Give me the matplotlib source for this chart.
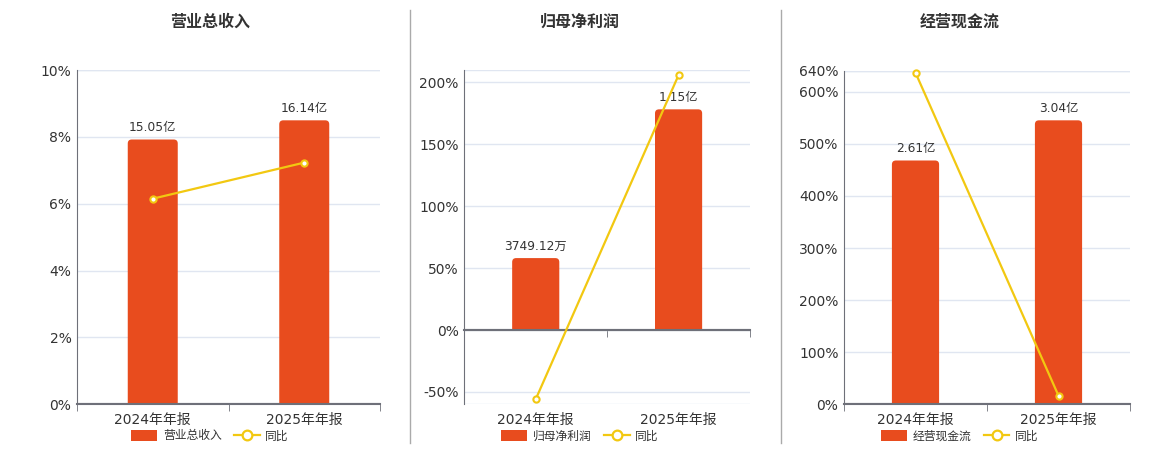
import numpy as np
import matplotlib
matplotlib.use("Agg")
import matplotlib.pyplot as plt
from matplotlib.patches import FancyBboxPatch, Patch, Rectangle
from matplotlib.lines import Line2D
from matplotlib.transforms import blended_transform_factory

plt.rcParams['font.family'] = ['DejaVu Sans', 'Noto Sans CJK SC']

# ---- data ----
periods = ['2024年年报', '2025年年报']

titles = ['营业总收入', '归母净利润', '经营现金流']

revenue = [15.05, 16.14]            # 亿
revenue_labels = ['15.05亿', '16.14亿']
revenue_yoy = [6.15, 7.23]          # %

profit = [0.374912, 1.15]           # 亿
profit_labels = ['3749.12万', '1.15亿']
profit_yoy = [-55.9, 205.9]

cashflow = [2.61, 3.04]
cashflow_labels = ['2.61亿', '3.04亿']
cashflow_yoy = [636.7, 16.5]

pct_ticks = [
    [0, 2, 4, 6, 8, 10],
    [-50, 0, 50, 100, 150, 200],
    [0, 100, 200, 300, 400, 500, 600, 640],
]
pct_lims = [(0, 10), (-60, 210), (0, 640)]
bar_lims = [(0, 19.0), (-0.387, 1.355), (0, 3.568)]

bar_vals = [revenue, profit, cashflow]
bar_texts = [revenue_labels, profit_labels, cashflow_labels]
yoy_vals = [revenue_yoy, profit_yoy, cashflow_yoy]

# ---- style ----
BAR = '#E84C1E'
LINE = '#F2C811'
GRID = '#E0E6F1'
AXIS = '#6E7079'
TXT = '#333333'

W, H = 1160, 450
fig = plt.figure(figsize=(W / 100, H / 100), dpi=100)

# axes boxes in pixels: left, top, right, bottom
boxes = [(77, 70, 380, 404.3), (464.3, 70, 750, 404.3), (844, 71, 1130, 404.3)]
centers = [210, 580, 960]

x = np.arange(len(periods))
bw = 0.33

for i in range(3):
    l, t, r, b = boxes[i]
    ax = fig.add_axes([l / W, (H - b) / H, (r - l) / W, (b - t) / H])
    ax.set_xlim(-0.5, len(periods) - 0.5)
    ax.set_ylim(*pct_lims[i])
    ax.set_yticks(pct_ticks[i])
    ax.set_yticklabels([f'{v}%' for v in pct_ticks[i]])
    ax.tick_params(axis='y', length=0, pad=4, labelsize=10, labelcolor=TXT)
    ax.grid(axis='y', color=GRID, lw=1)
    ax.set_axisbelow(True)
    for lim in pct_lims[i]:
        ax.axhline(lim, color=GRID, lw=1, zorder=0)
    for s in ['top', 'right']:
        ax.spines[s].set_visible(False)
    ax.spines['left'].set_color(AXIS)
    ax.spines['bottom'].set_color(AXIS)
    ax.spines['bottom'].set_position(('data', 0))
    ax.spines['bottom'].set_linewidth(1.5)
    ax.set_xticks(x)
    ax.set_xticklabels([])
    ax.tick_params(axis='x', which='major', length=0)
    ax.set_xticks([-0.5, 0.5, 1.5], minor=True)
    ax.tick_params(axis='x', which='minor', length=5, color=AXIS, direction='out')

    tr = blended_transform_factory(ax.transData, ax.transAxes)
    for xi, p in zip(x, periods):
        ax.annotate(p, (xi, 0), xycoords=tr, xytext=(0, -6), textcoords='offset points',
                    ha='center', va='top', fontsize=10, color=TXT)

    # bars on a hidden second scale
    axb = ax.twinx()
    axb.set_ylim(*bar_lims[i])
    axb.axis('off')
    bars = axb.bar(x, bar_vals[i], width=bw, color=BAR, zorder=2)
    xupp = (ax.get_xlim()[1] - ax.get_xlim()[0]) / (r - l)
    yupp = (bar_lims[i][1] - bar_lims[i][0]) / (b - t)
    rad = 4 * xupp
    for rect in bars:
        x0, h, w = rect.get_x(), rect.get_height(), rect.get_width()
        rect.set_visible(False)
        ext = rad * yupp / xupp
        rp = FancyBboxPatch((x0, -ext), w, h + ext,
                            boxstyle=f'round,pad=0,rounding_size={rad}',
                            mutation_aspect=yupp / xupp,
                            fc=BAR, ec='none', zorder=2)
        axb.add_patch(rp)
        clip = Rectangle((x0 - w, 0), 3 * w, 2 * h, transform=axb.transData)
        rp.set_clip_path(clip)
    axb.axhline(0, color=AXIS, lw=1.5, zorder=3)
    for xi, v, s in zip(x, bar_vals[i], bar_texts[i]):
        axb.annotate(s, (xi, v), xytext=(0, 4), textcoords='offset points',
                     ha='center', va='bottom', fontsize=8.8, color=TXT, zorder=4)

    # yoy line on the percent scale, drawn above the bars
    axb.plot(x, yoy_vals[i], color=LINE, lw=1.6, marker='o', ms=4.5,
             mfc='white', mec=LINE, mew=1.5, transform=ax.transData, zorder=5,
             clip_on=False)

    fig.text(centers[i] / W, 1 - 22 / H, titles[i], ha='center', va='center',
             fontsize=11.5, fontweight='bold', color=TXT)

    handles = [Patch(fc=BAR, ec='none'),
               Line2D([], [], color=LINE, lw=1.6, marker='o', ms=7,
                      mfc='white', mec=LINE, mew=1.6)]
    fig.legend(handles, [titles[i], '同比'], loc='center',
               bbox_to_anchor=(centers[i] / W, 14 / H), ncol=2, frameon=False,
               fontsize=8.5, handlelength=2.2, handleheight=1.0,
               handletextpad=0.5, columnspacing=1.0, labelcolor=TXT)

# separators
for sx in [410, 781]:
    fig.add_artist(Line2D([sx / W, sx / W], [1 - 10 / H, 1 - 443 / H],
                          color='#AAAAAA', lw=1))

fig.savefig('out.png', dpi=100)
